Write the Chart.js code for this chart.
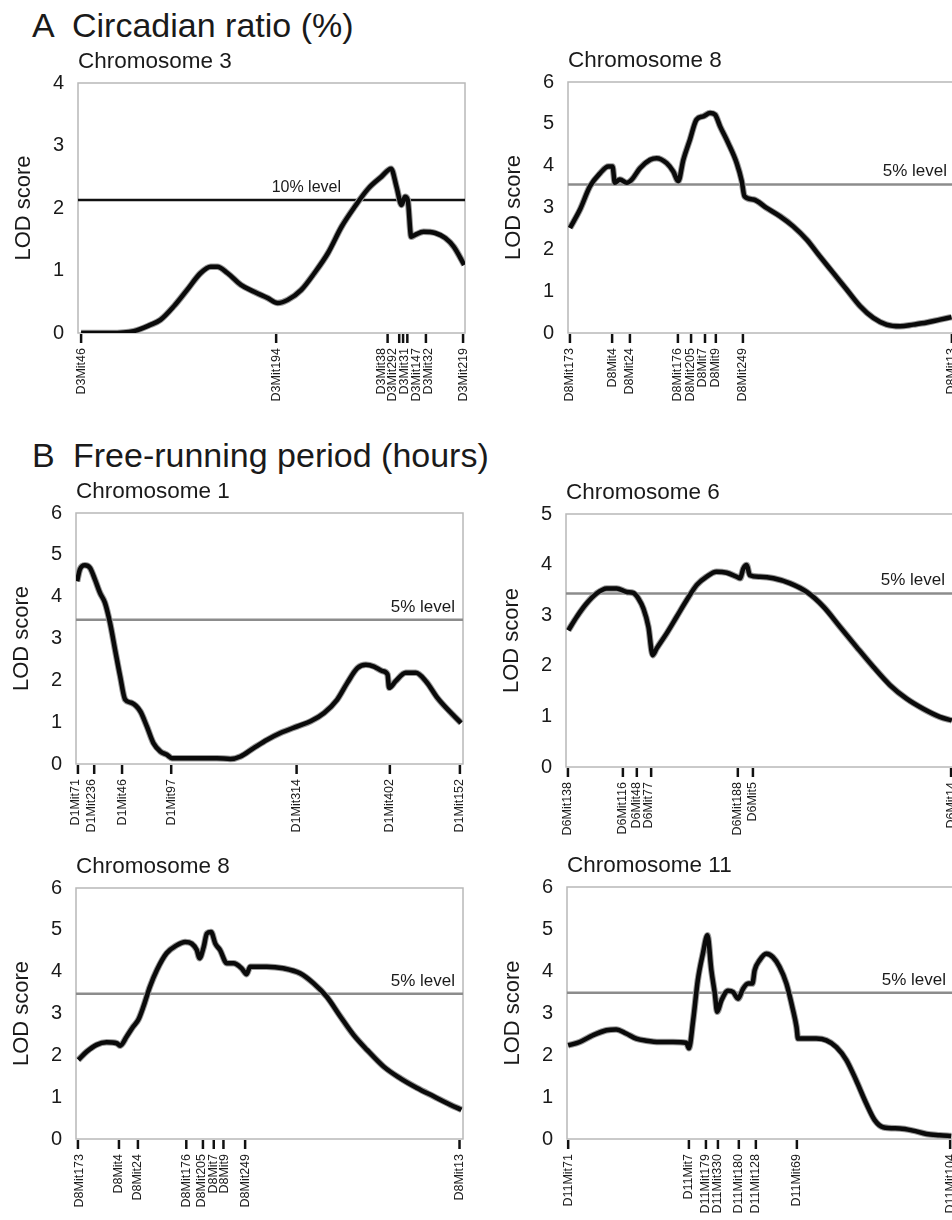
<!DOCTYPE html>
<html>
<head>
<meta charset="utf-8">
<title>LOD score profiles</title>
<script src="https://cdn.jsdelivr.net/npm/chart.js@4.4.1/dist/chart.umd.min.js"></script>
<style>
  body { margin: 0; background: #fff; }
  #figure { position: relative; width: 952px; height: 1220px; overflow: hidden;
            font-family: "Liberation Sans", Arial, Helvetica, sans-serif; color: #1a1a1a; }
  .heading { position: absolute; font-size: 34px; line-height: 34px; white-space: nowrap; }
  canvas { position: absolute; }
</style>
</head>
<body>
<div id="figure">
  <div class="heading" style="left:32px; top:8px">A</div>
  <div class="heading" style="left:72px; top:8px">Circadian ratio (%)</div>
  <div class="heading" style="left:32px; top:438px">B</div>
  <div class="heading" style="left:73px; top:438px">Free-running period (hours)</div>
  <canvas id="chr3A"></canvas>
  <canvas id="chr8A"></canvas>
  <canvas id="chr1B"></canvas>
  <canvas id="chr6B"></canvas>
  <canvas id="chr8B"></canvas>
  <canvas id="chr11B"></canvas>
</div>
<script>
// positions are relative map position along each chromosome (0-100)

// A - circadian ratio, chromosome 3
const posChr3A = [0.8, 8.3, 14.4, 18.7, 21.3, 24.8, 28.2, 31.7, 34.3, 36.0, 38.6, 42.1, 45.5, 49.0, 51.6, 54.2, 57.7, 61.1, 64.6, 68.1, 71.5, 75.0, 78.4, 80.9, 82.3, 83.6, 84.5, 85.2, 86.1, 87.1, 89.3, 92.3, 94.9, 97.1, 99.8];
const lodChr3A = [0, 0, 0.03, 0.13, 0.21, 0.43, 0.69, 0.96, 1.06, 1.06, 0.96, 0.77, 0.66, 0.56, 0.48, 0.53, 0.69, 0.96, 1.28, 1.70, 2.02, 2.31, 2.50, 2.63, 2.34, 2.05, 2.18, 2.13, 1.54, 1.57, 1.62, 1.60, 1.52, 1.38, 1.09];
const markersChr3A = ['D3Mit46', 'D3Mit194', 'D3Mit38', 'D3Mit292', 'D3Mit31', 'D3Mit147', 'D3Mit32', 'D3Mit219'];
const markerPosChr3A = [0.8, 51.2, 80.0, 83.0, 84.0, 85.1, 89.9, 99.5];
const labelPosChr3A = [0.8, 51.2, 78.4, 81.3, 84.4, 87.5, 90.6, 99.5];

// A - circadian ratio, chromosome 8
const posChr8A = [0.5, 3.1, 5.7, 8.3, 10.4, 11.5, 12.1, 13.4, 15.2, 16.5, 18.6, 21.2, 22.9, 25.5, 27.2, 28.5, 29.8, 31.5, 33.2, 35.0, 36.7, 38.0, 39.3, 41.4, 43.6, 44.9, 45.6, 47.9, 51.3, 54.8, 58.2, 61.7, 65.1, 68.6, 72.0, 75.5, 78.9, 82.3, 85.8, 89.2, 92.7, 96.1, 99.1];
const lodChr8A = [2.51, 2.95, 3.51, 3.82, 3.98, 3.98, 3.59, 3.67, 3.59, 3.67, 3.94, 4.14, 4.18, 4.06, 3.86, 3.63, 4.14, 4.62, 5.10, 5.18, 5.26, 5.22, 4.94, 4.54, 4.06, 3.63, 3.27, 3.19, 2.99, 2.79, 2.55, 2.23, 1.83, 1.43, 1.04, 0.64, 0.36, 0.20, 0.16, 0.20, 0.25, 0.32, 0.38];
const markersChr8A = ['D8Mit173', 'D8Mit4', 'D8Mit24', 'D8Mit176', 'D8Mit205', 'D8Mit7', 'D8Mit9', 'D8Mit249', 'D8Mit13'];
const markerPosChr8A = [0.5, 11.4, 16.0, 28.4, 31.8, 35.4, 38.2, 45.2, 99.2];
const labelPosChr8A = [0.5, 11.4, 16.0, 28.4, 31.6, 34.8, 38.0, 45.2, 99.2];

// B - free-running period, chromosome 1
const posChr1B = [0.3, 1.0, 2.3, 3.6, 4.9, 6.2, 7.5, 8.8, 10.1, 11.4, 12.7, 14.4, 16.6, 18.3, 20.0, 21.8, 23.5, 24.8, 27.8, 32.1, 36.4, 39.9, 42.5, 45.9, 49.4, 52.8, 57.2, 60.6, 64.1, 67.5, 70.1, 72.7, 74.9, 77.0, 79.2, 80.5, 80.9, 82.6, 85.2, 87.8, 90.4, 93.4, 96.5, 99.5];
const lodChr1B = [4.37, 4.65, 4.75, 4.69, 4.41, 4.09, 3.85, 3.37, 2.73, 2.10, 1.54, 1.46, 1.26, 0.90, 0.50, 0.30, 0.22, 0.14, 0.14, 0.14, 0.14, 0.12, 0.18, 0.38, 0.58, 0.74, 0.90, 1.02, 1.22, 1.54, 1.94, 2.29, 2.37, 2.33, 2.22, 2.14, 1.82, 1.98, 2.18, 2.18, 1.98, 1.58, 1.26, 0.98];
const markersChr1B = ['D1Mit71', 'D1Mit236', 'D1Mit46', 'D1Mit97', 'D1Mit314', 'D1Mit402', 'D1Mit152'];
const markerPosChr1B = [0.5, 4.7, 11.9, 24.6, 57.0, 81.1, 99.2];
const labelPosChr1B = [-0.2, 4.1, 11.9, 24.6, 57.0, 81.1, 99.2];

// B - free-running period, chromosome 6
const posChr6B = [0.6, 2.8, 5.3, 7.9, 10.5, 13.1, 15.7, 17.4, 18.7, 20.0, 21.3, 22.4, 23.4, 26.0, 28.6, 31.2, 33.8, 36.3, 38.9, 41.5, 44.1, 45.0, 45.8, 46.7, 47.5, 50.1, 53.6, 57.9, 62.2, 66.5, 70.8, 75.1, 79.4, 83.7, 88.0, 92.3, 96.6, 99.7];
const lodChr6B = [2.70, 2.97, 3.23, 3.43, 3.53, 3.53, 3.46, 3.44, 3.33, 3.13, 2.77, 2.21, 2.34, 2.64, 2.97, 3.30, 3.60, 3.76, 3.86, 3.84, 3.76, 3.73, 3.92, 3.99, 3.79, 3.76, 3.73, 3.63, 3.46, 3.17, 2.77, 2.37, 1.98, 1.62, 1.35, 1.15, 0.99, 0.92];
const markersChr6B = ['D6Mit138', 'D6Mit116', 'D6Mit48', 'D6Mit77', 'D6Mit188', 'D6Mit5', 'D6Mit14'];
const markerPosChr6B = [0.5, 14.7, 18.3, 22.0, 44.4, 48.3, 99.5];
const labelPosChr6B = [0.5, 14.5, 18.1, 21.4, 44.4, 48.1, 99.5];

// B - free-running period, chromosome 8
const posChr8B = [0.6, 2.8, 5.3, 7.9, 10.5, 11.4, 13.1, 14.8, 16.1, 17.4, 19.1, 20.9, 23.4, 26.0, 28.2, 29.9, 31.2, 31.9, 33.0, 33.8, 34.9, 36.0, 37.2, 39.0, 40.7, 42.8, 44.1, 45.0, 49.3, 53.6, 57.9, 61.4, 64.8, 68.3, 71.7, 75.2, 79.5, 83.8, 88.1, 92.4, 96.7, 99.6];
const lodChr8B = [1.89, 2.09, 2.25, 2.31, 2.29, 2.23, 2.45, 2.69, 2.85, 3.16, 3.64, 4.04, 4.44, 4.63, 4.71, 4.67, 4.52, 4.32, 4.59, 4.91, 4.95, 4.67, 4.52, 4.20, 4.20, 4.08, 3.94, 4.12, 4.12, 4.08, 3.96, 3.72, 3.40, 2.93, 2.49, 2.13, 1.73, 1.45, 1.22, 1.02, 0.82, 0.70];
const markersChr8B = ['D8Mit173', 'D8Mit4', 'D8Mit24', 'D8Mit176', 'D8Mit205', 'D8Mit7', 'D8Mit9', 'D8Mit249', 'D8Mit13'];
const markerPosChr8B = [0.5, 11.1, 16.0, 28.5, 32.8, 35.6, 38.1, 43.7, 99.1];
const labelPosChr8B = [1.0, 10.9, 15.8, 28.5, 32.5, 35.6, 38.3, 43.7, 99.1];

// B - free-running period, chromosome 11
const posChr11B = [0.3, 3.3, 6.7, 10.2, 12.7, 15.3, 17.9, 20.5, 23.9, 27.4, 30.8, 31.5, 32.6, 33.8, 35.1, 36.3, 37.3, 38.2, 38.8, 39.9, 41.6, 42.9, 44.2, 45.5, 46.8, 47.9, 48.5, 49.8, 51.5, 53.2, 54.9, 56.7, 58.4, 59.3, 59.7, 61.8, 64.4, 67.0, 69.6, 72.2, 74.7, 77.3, 79.5, 81.7, 86.0, 89.4, 92.9, 96.3, 99.3];
const lodChr11B = [2.23, 2.31, 2.47, 2.59, 2.61, 2.51, 2.39, 2.34, 2.31, 2.31, 2.29, 2.16, 2.83, 3.78, 4.41, 4.85, 4.02, 3.46, 3.03, 3.30, 3.53, 3.50, 3.34, 3.58, 3.70, 3.70, 4.02, 4.26, 4.41, 4.33, 4.10, 3.70, 3.07, 2.67, 2.39, 2.39, 2.39, 2.35, 2.19, 1.88, 1.40, 0.85, 0.45, 0.28, 0.25, 0.20, 0.12, 0.09, 0.07];
const markersChr11B = ['D11Mit71', 'D11Mit7', 'D11Mit179', 'D11Mit330', 'D11Mit180', 'D11Mit128', 'D11Mit69', 'D11Mit104'];
const markerPosChr11B = [0.3, 31.5, 35.9, 39.0, 44.4, 48.8, 59.4, 99.0];
const labelPosChr11B = [0.3, 31.5, 35.9, 39.0, 44.4, 48.6, 59.4, 99.0];

// significance thresholds
const thresholdLabels = ['10% level', '5% level', '5% level', '5% level', '5% level', '5% level'];
const thresholdValues = [2.13, 3.55, 3.45, 3.43, 3.47, 3.48];

const FONT = '"Liberation Sans", Arial, Helvetica, sans-serif';
const PLOT_W = 387;
const LEFT_SPACE = 76;
const TOP_SPACE = 40;
const BOTTOM_SPACE = 75;

// frame, marker ticks, marker names and threshold text
const annotations = {
  id: 'annotations',
  beforeDatasetsDraw(chart) {
    const a = chart.chartArea;
    const ctx = chart.ctx;
    ctx.save();
    ctx.strokeStyle = '#b8b8b8';
    ctx.lineWidth = 1.5;
    ctx.strokeRect(a.left, a.top, a.right - a.left, a.bottom - a.top);
    ctx.restore();
  },
  afterDatasetsDraw(chart, args, opts) {
    const a = chart.chartArea;
    const ctx = chart.ctx;
    const xs = chart.scales.x;
    const ys = chart.scales.y;
    ctx.save();
    ctx.strokeStyle = '#111';
    ctx.lineWidth = 2.5;
    opts.markerPos.forEach(function (p) {
      const px = xs.getPixelForValue(p);
      ctx.beginPath();
      ctx.moveTo(px, a.bottom + 1);
      ctx.lineTo(px, a.bottom + 10);
      ctx.stroke();
    });

    ctx.fillStyle = '#1a1a1a';
    ctx.font = '12.5px ' + FONT;
    ctx.textAlign = 'right';
    ctx.textBaseline = 'middle';
    opts.markers.forEach(function (name, i) {
      ctx.save();
      ctx.translate(xs.getPixelForValue(opts.labelPos[i]), a.bottom + 15);
      ctx.rotate(-Math.PI / 2);
      ctx.fillText(name, 0, 0);
      ctx.restore();
    });

    ctx.font = opts.levelFont + 'px ' + FONT;
    ctx.textBaseline = 'alphabetic';
    const ly = ys.getPixelForValue(opts.level) - 8;
    if (opts.levelAt === null) {
      ctx.textAlign = 'right';
      ctx.fillText(opts.levelText, a.right - 8, ly);
    } else {
      ctx.textAlign = 'center';
      ctx.fillText(opts.levelText, xs.getPixelForValue(opts.levelAt), ly);
    }
    ctx.restore();
  }
};

function makePanel(id, cfg) {
  const canvas = document.getElementById(id);
  const w = LEFT_SPACE + PLOT_W + 12;
  const h = TOP_SPACE + cfg.plotH + BOTTOM_SPACE;
  canvas.width = w;
  canvas.height = h;
  canvas.style.width = w + 'px';
  canvas.style.height = h + 'px';
  canvas.style.left = (cfg.plotLeft - LEFT_SPACE) + 'px';
  canvas.style.top = (cfg.plotTop - TOP_SPACE) + 'px';

  const points = cfg.pos.map(function (p, i) { return { x: p, y: cfg.lod[i] }; });

  new Chart(canvas, {
    type: 'line',
    data: {
      datasets: [{
        data: points,
        borderColor: '#0a0a0a',
        borderWidth: 4.5,
        pointRadius: 0,
        cubicInterpolationMode: 'monotone',
        order: 1
      }, {
        data: points,
        borderColor: '#9a9a9a',
        borderWidth: 6.5,
        pointRadius: 0,
        cubicInterpolationMode: 'monotone',
        order: 2
      }, {
        data: [{ x: 0, y: cfg.level }, { x: 100, y: cfg.level }],
        borderColor: cfg.levelColor,
        borderWidth: 2.5,
        pointRadius: 0,
        order: 3
      }]
    },
    options: {
      responsive: false,
      animation: false,
      devicePixelRatio: 1,
      layout: { padding: { top: 0, right: 12, bottom: 0, left: 0 } },
      plugins: {
        legend: { display: false },
        tooltip: { enabled: false },
        title: {
          display: true,
          text: cfg.title,
          align: 'start',
          fullSize: false,
          color: '#1a1a1a',
          font: { family: FONT, size: 22.5, weight: 'normal' },
          padding: { top: 5.5, bottom: 7.5 }
        },
        annotations: {
          markers: cfg.markers,
          markerPos: cfg.markerPos,
          labelPos: cfg.labelPos,
          level: cfg.level,
          levelText: cfg.levelText,
          levelAt: cfg.levelAt,
          levelFont: cfg.levelFont
        }
      },
      scales: {
        x: {
          type: 'linear',
          min: 0,
          max: 100,
          ticks: { display: false },
          grid: { display: false },
          border: { display: false },
          afterFit: function (s) { s.height = BOTTOM_SPACE; }
        },
        y: {
          min: 0,
          max: cfg.yMax,
          ticks: {
            stepSize: 1,
            padding: 14,
            color: '#1a1a1a',
            font: { family: FONT, size: 20 }
          },
          grid: { display: false, drawTicks: false },
          border: { display: false },
          title: {
            display: true,
            text: 'LOD score',
            color: '#1a1a1a',
            font: { family: FONT, size: 22 },
            padding: { top: 9, bottom: 0 }
          },
          afterFit: function (s) { s.width = LEFT_SPACE; }
        }
      }
    },
    plugins: [annotations]
  });
}

document.addEventListener('DOMContentLoaded', function () {
  makePanel('chr3A', { title: 'Chromosome 3', plotLeft: 78, plotTop: 83, plotH: 250, yMax: 4,
    pos: posChr3A, lod: lodChr3A, markers: markersChr3A, markerPos: markerPosChr3A, labelPos: labelPosChr3A,
    level: thresholdValues[0], levelText: thresholdLabels[0], levelColor: '#111', levelAt: 59, levelFont: 16 });
  makePanel('chr8A', { title: 'Chromosome 8', plotLeft: 568, plotTop: 82, plotH: 251, yMax: 6,
    pos: posChr8A, lod: lodChr8A, markers: markersChr8A, markerPos: markerPosChr8A, labelPos: labelPosChr8A,
    level: thresholdValues[1], levelText: thresholdLabels[1], levelColor: '#8c8c8c', levelAt: null, levelFont: 17 });
  makePanel('chr1B', { title: 'Chromosome 1', plotLeft: 76, plotTop: 513, plotH: 251, yMax: 6,
    pos: posChr1B, lod: lodChr1B, markers: markersChr1B, markerPos: markerPosChr1B, labelPos: labelPosChr1B,
    level: thresholdValues[2], levelText: thresholdLabels[2], levelColor: '#8c8c8c', levelAt: null, levelFont: 17 });
  makePanel('chr6B', { title: 'Chromosome 6', plotLeft: 566, plotTop: 514, plotH: 253, yMax: 5,
    pos: posChr6B, lod: lodChr6B, markers: markersChr6B, markerPos: markerPosChr6B, labelPos: labelPosChr6B,
    level: thresholdValues[3], levelText: thresholdLabels[3], levelColor: '#8c8c8c', levelAt: null, levelFont: 17 });
  makePanel('chr8B', { title: 'Chromosome 8', plotLeft: 76, plotTop: 888, plotH: 251, yMax: 6,
    pos: posChr8B, lod: lodChr8B, markers: markersChr8B, markerPos: markerPosChr8B, labelPos: labelPosChr8B,
    level: thresholdValues[4], levelText: thresholdLabels[4], levelColor: '#8c8c8c', levelAt: null, levelFont: 17 });
  makePanel('chr11B', { title: 'Chromosome 11', plotLeft: 567, plotTop: 887, plotH: 252, yMax: 6,
    pos: posChr11B, lod: lodChr11B, markers: markersChr11B, markerPos: markerPosChr11B, labelPos: labelPosChr11B,
    level: thresholdValues[5], levelText: thresholdLabels[5], levelColor: '#8c8c8c', levelAt: null, levelFont: 17 });
});
</script>
</body>
</html>
